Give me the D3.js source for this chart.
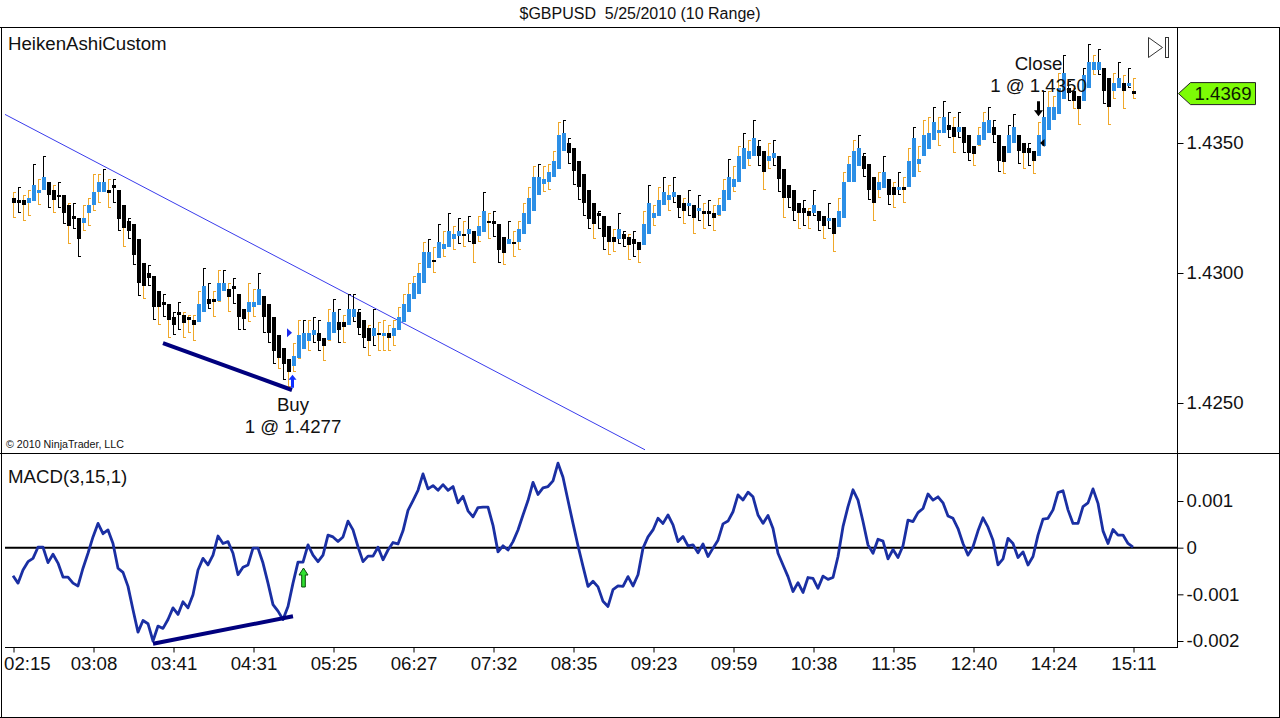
<!DOCTYPE html>
<html><head><meta charset="utf-8">
<script src="https://cdn.jsdelivr.net/npm/d3@7"></script>
<style>
body{margin:0;background:#fff}
svg{display:block}
text{font-family:Arial,"Liberation Sans",sans-serif}
</style>
</head><body>
<svg id="c" width="1280" height="718"></svg>
<script>
// ---------------- data ----------------
const title = "$GBPUSD  5/25/2010 (10 Range)";
const timeLabels = ["02:15","03:08","03:41","04:31","05:25","06:27","07:32","08:35","09:23","09:59","10:38","11:35","12:40","14:24","15:11"];
const priceTicks = [1.4250, 1.4300, 1.4350];
const macdTicks = [0.001, 0, -0.001, -0.002];

const haOpen = [
1.4329,1.4328,1.4328,1.4327,1.4328,1.4331,1.4332,1.4335,1.4332,1.4330,
1.4330,1.4326,1.4322,1.4321,1.4319,1.4323,1.4326,1.4331,1.4331,1.4332,
1.4334,1.4332,1.4326,1.4320,1.4319,1.4313,1.4304,1.4300,1.4299,1.4293,
1.4289,1.4288,1.4283,1.4285,1.4284,1.4283,1.4282,1.4281,1.4285,1.4290,
1.4290,1.4289,1.4293,1.4294,1.4295,1.4292,1.4286,1.4285,1.4287,1.4288,
1.4291,1.4288,1.4283,1.4276,1.4271,1.4267,1.4264,1.4267,1.4271,1.4274,
1.4276,1.4277,1.4275,1.4274,1.4277,1.4281,1.4281,1.4280,1.4283,1.4285,
1.4282,1.4279,1.4276,1.4277,1.4276,1.4277,1.4276,1.4278,1.4281,1.4285,
1.4290,1.4292,1.4296,1.4302,1.4305,1.4306,1.4309,1.4310,1.4313,1.4314,
1.4315,1.4315,1.4316,1.4314,1.4316,1.4320,1.4320,1.4319,1.4314,1.4311,
1.4312,1.4312,1.4315,1.4319,1.4324,1.4330,1.4334,1.4335,1.4337,1.4340,
1.4347,1.4350,1.4348,1.4343,1.4338,1.4332,1.4327,1.4323,1.4322,1.4318,
1.4314,1.4313,1.4315,1.4314,1.4313,1.4312,1.4311,1.4315,1.4321,1.4322,
1.4326,1.4328,1.4329,1.4330,1.4327,1.4326,1.4326,1.4324,1.4324,1.4324,
1.4323,1.4322,1.4324,1.4328,1.4333,1.4335,1.4340,1.4344,1.4345,1.4349,
1.4347,1.4343,1.4344,1.4345,1.4340,1.4334,1.4332,1.4327,1.4325,1.4324,
1.4323,1.4324,1.4322,1.4320,1.4321,1.4318,1.4321,1.4335,1.4335,1.4341,
1.4345,1.4342,1.4337,1.4332,1.4333,1.4336,1.4333,1.4332,1.4333,1.4333,
1.4337,1.4342,1.4345,1.4348,1.4351,1.4354,1.4354,1.4357,1.4356,1.4354,
1.4356,1.4353,1.4349,1.4349,1.4351,1.4354,1.4356,1.4353,1.4349,1.4346,
1.4350,1.4353,1.4350,1.4348,1.4347,1.4345,1.4349,1.4355,1.4359,1.4361,
1.4367,1.4371,1.4370,1.4368,1.4366,1.4371,1.4378,1.4378,1.4379,1.4375,
1.4370,1.4371,1.4373,1.4372,1.4370];

const haClose = [
1.4327,1.4327,1.4326,1.4329,1.4334,1.4332,1.4337,1.4330,1.4328,1.4330,
1.4323,1.4318,1.4321,1.4313,1.4321,1.4326,1.4331,1.4335,1.4335,1.4331,
1.4333,1.4321,1.4317,1.4316,1.4307,1.4296,1.4295,1.4298,1.4287,1.4287,
1.4288,1.4282,1.4280,1.4284,1.4281,1.4282,1.4280,1.4288,1.4295,1.4288,
1.4289,1.4296,1.4296,1.4291,1.4294,1.4283,1.4282,1.4289,1.4289,1.4294,
1.4283,1.4277,1.4270,1.4267,1.4265,1.4262,1.4268,1.4276,1.4277,1.4277,
1.4278,1.4274,1.4272,1.4281,1.4285,1.4278,1.4279,1.4286,1.4286,1.4279,
1.4275,1.4274,1.4279,1.4277,1.4277,1.4275,1.4279,1.4283,1.4288,1.4292,
1.4296,1.4300,1.4308,1.4308,1.4305,1.4312,1.4311,1.4316,1.4315,1.4316,
1.4315,1.4317,1.4311,1.4318,1.4324,1.4320,1.4319,1.4309,1.4308,1.4313,
1.4312,1.4317,1.4323,1.4329,1.4337,1.4337,1.4336,1.4339,1.4343,1.4353,
1.4354,1.4346,1.4339,1.4333,1.4327,1.4321,1.4319,1.4322,1.4314,1.4312,
1.4312,1.4317,1.4313,1.4311,1.4311,1.4309,1.4319,1.4327,1.4323,1.4328,
1.4331,1.4330,1.4331,1.4325,1.4324,1.4327,1.4321,1.4325,1.4323,1.4323,
1.4321,1.4326,1.4332,1.4337,1.4336,1.4345,1.4348,1.4347,1.4352,1.4345,
1.4339,1.4345,1.4346,1.4336,1.4329,1.4329,1.4324,1.4323,1.4323,1.4322,
1.4326,1.4320,1.4318,1.4321,1.4315,1.4324,1.4335,1.4342,1.4347,1.4348,
1.4340,1.4332,1.4327,1.4335,1.4339,1.4330,1.4330,1.4333,1.4332,1.4343,
1.4352,1.4344,1.4353,1.4354,1.4358,1.4355,1.4360,1.4355,1.4352,1.4356,
1.4350,1.4346,1.4346,1.4353,1.4358,1.4359,1.4353,1.4343,1.4343,1.4353,
1.4356,1.4347,1.4346,1.4346,1.4343,1.4353,1.4360,1.4364,1.4364,1.4371,
1.4377,1.4369,1.4366,1.4363,1.4376,1.4381,1.4381,1.4381,1.4370,1.4364,
1.4373,1.4375,1.4370,1.4373,1.4369];

const haHigh = [
1.4331,1.4333,1.4330,1.4332,1.4342,1.4336,1.4345,1.4335,1.4334,1.4335,
1.4330,1.4327,1.4327,1.4321,1.4326,1.4329,1.4338,1.4338,1.4340,1.4336,
1.4336,1.4332,1.4326,1.4321,1.4319,1.4313,1.4304,1.4303,1.4299,1.4293,
1.4292,1.4288,1.4285,1.4289,1.4285,1.4284,1.4284,1.4293,1.4302,1.4296,
1.4293,1.4301,1.4301,1.4296,1.4298,1.4292,1.4286,1.4296,1.4294,1.4300,
1.4291,1.4288,1.4283,1.4276,1.4271,1.4267,1.4273,1.4282,1.4282,1.4282,
1.4283,1.4282,1.4275,1.4286,1.4290,1.4286,1.4284,1.4292,1.4292,1.4286,
1.4282,1.4280,1.4286,1.4281,1.4282,1.4280,1.4282,1.4287,1.4292,1.4296,
1.4299,1.4304,1.4312,1.4313,1.4310,1.4319,1.4316,1.4323,1.4318,1.4321,
1.4320,1.4322,1.4316,1.4322,1.4331,1.4323,1.4324,1.4319,1.4314,1.4320,
1.4316,1.4320,1.4327,1.4333,1.4341,1.4342,1.4341,1.4342,1.4347,1.4358,
1.4359,1.4352,1.4348,1.4343,1.4338,1.4332,1.4327,1.4324,1.4322,1.4318,
1.4317,1.4323,1.4316,1.4315,1.4316,1.4312,1.4324,1.4334,1.4326,1.4333,
1.4337,1.4334,1.4337,1.4330,1.4329,1.4332,1.4326,1.4330,1.4327,1.4328,
1.4326,1.4329,1.4336,1.4344,1.4341,1.4349,1.4354,1.4351,1.4359,1.4351,
1.4347,1.4350,1.4351,1.4345,1.4340,1.4334,1.4332,1.4327,1.4328,1.4325,
1.4332,1.4324,1.4322,1.4327,1.4321,1.4329,1.4339,1.4345,1.4351,1.4353,
1.4346,1.4342,1.4337,1.4339,1.4345,1.4336,1.4335,1.4339,1.4337,1.4348,
1.4356,1.4349,1.4359,1.4360,1.4364,1.4360,1.4366,1.4362,1.4360,1.4362,
1.4356,1.4353,1.4349,1.4356,1.4362,1.4364,1.4359,1.4353,1.4349,1.4357,
1.4361,1.4353,1.4350,1.4350,1.4347,1.4358,1.4370,1.4370,1.4368,1.4377,
1.4384,1.4374,1.4371,1.4368,1.4379,1.4388,1.4384,1.4386,1.4379,1.4375,
1.4377,1.4381,1.4376,1.4379,1.4375];

const haLow = [
1.4321,1.4323,1.4320,1.4322,1.4328,1.4326,1.4332,1.4325,1.4323,1.4325,
1.4319,1.4311,1.4317,1.4306,1.4316,1.4318,1.4324,1.4327,1.4331,1.4325,
1.4327,1.4316,1.4310,1.4313,1.4303,1.4291,1.4290,1.4295,1.4282,1.4280,
1.4283,1.4275,1.4276,1.4278,1.4275,1.4277,1.4274,1.4281,1.4285,1.4286,
1.4283,1.4289,1.4293,1.4285,1.4288,1.4278,1.4278,1.4281,1.4283,1.4288,
1.4277,1.4273,1.4265,1.4263,1.4259,1.4256,1.4262,1.4267,1.4271,1.4270,
1.4273,1.4270,1.4266,1.4274,1.4277,1.4273,1.4273,1.4280,1.4281,1.4276,
1.4271,1.4268,1.4272,1.4270,1.4270,1.4270,1.4272,1.4278,1.4281,1.4285,
1.4290,1.4292,1.4296,1.4302,1.4300,1.4306,1.4306,1.4310,1.4309,1.4311,
1.4310,1.4312,1.4304,1.4312,1.4316,1.4313,1.4314,1.4304,1.4303,1.4311,
1.4306,1.4309,1.4315,1.4319,1.4324,1.4330,1.4331,1.4332,1.4337,1.4340,
1.4347,1.4342,1.4334,1.4328,1.4322,1.4317,1.4313,1.4317,1.4309,1.4307,
1.4308,1.4311,1.4310,1.4305,1.4306,1.4304,1.4311,1.4315,1.4318,1.4322,
1.4326,1.4324,1.4327,1.4321,1.4319,1.4322,1.4315,1.4320,1.4317,1.4318,
1.4316,1.4322,1.4324,1.4328,1.4331,1.4335,1.4340,1.4341,1.4345,1.4341,
1.4332,1.4340,1.4341,1.4331,1.4321,1.4325,1.4320,1.4317,1.4318,1.4317,
1.4322,1.4316,1.4313,1.4317,1.4308,1.4318,1.4321,1.4335,1.4335,1.4341,
1.4337,1.4328,1.4320,1.4329,1.4333,1.4326,1.4325,1.4330,1.4327,1.4333,
1.4337,1.4339,1.4345,1.4348,1.4351,1.4349,1.4354,1.4352,1.4346,1.4352,
1.4346,1.4343,1.4341,1.4349,1.4351,1.4354,1.4350,1.4339,1.4338,1.4346,
1.4350,1.4342,1.4340,1.4341,1.4338,1.4345,1.4349,1.4355,1.4359,1.4361,
1.4367,1.4366,1.4363,1.4357,1.4366,1.4371,1.4376,1.4376,1.4365,1.4357,
1.4367,1.4371,1.4363,1.4371,1.4367];

// wick tone per bar: o = orange, k = black
const wickTone = ["okookokkok","kokkooooko","kkokkkokko","kokkooookk","ookokkkook",
"kkkokoooko","kkookkokkk","kokooooooo","oookokokok","okookokkok",
"oooookoooo","kkkkkkokko","okkokookoo","kokkokokok","oookookokk",
"ookkokkoko","kkokoooook","kkookkokoo","koookokkok","kkoookkkok",
"kkokookooo","kkookkokko","okoko"].join("").split("");

const macd = [
-0.00060,-0.00076,-0.00048,-0.00030,-0.00023,0.00001,0.00001,-0.00032,-0.00014,-0.00033,
-0.00063,-0.00063,-0.00076,-0.00082,-0.00044,-0.00012,0.00023,0.00052,0.00030,0.00038,
0.00009,-0.00044,-0.00053,-0.00083,-0.00133,-0.00181,-0.00156,-0.00163,-0.00200,-0.00168,
-0.00173,-0.00154,-0.00129,-0.00143,-0.00116,-0.00129,-0.00101,-0.00048,-0.00023,-0.00037,
-0.00016,0.00025,0.00009,0.00013,-0.00012,-0.00058,-0.00042,-0.00037,-0.00001,-0.00001,
-0.00033,-0.00076,-0.00122,-0.00136,-0.00154,-0.00126,-0.00076,-0.00031,-0.00031,0.00006,
-0.00016,-0.00030,-0.00016,0.00027,
0.00023,0.00013,0.00023,0.00057,0.00038,0.00002,-0.00030,-0.00018,-0.00018,0.00001,
-0.00026,-0.00005,0.00011,0.00008,0.00036,0.00080,0.00101,0.00123,0.00158,0.00126,
0.00133,0.00123,0.00135,0.00123,0.00131,0.00096,0.00110,0.00079,0.00066,0.00086,
0.00087,0.00087,0.00048,-0.00009,0.00004,-0.00005,0.00013,0.00038,0.00070,0.00101,
0.00140,0.00114,0.00128,0.00131,0.00143,0.00181,0.00151,0.00101,0.00052,0.00004,
-0.00040,-0.00083,-0.00072,-0.00084,-0.00115,-0.00126,-0.00090,-0.00082,-0.00083,-0.00062,
-0.00082,-0.00058,-0.00001,0.00023,
0.00038,0.00063,0.00052,0.00070,0.00049,0.00013,0.00024,0.00004,0.00006,-0.00011,
0.00008,-0.00019,-0.00001,0.00016,0.00051,0.00057,0.00077,0.00113,0.00102,0.00119,
0.00109,0.00070,0.00052,0.00069,0.00041,-0.00012,-0.00037,-0.00062,-0.00094,-0.00075,
-0.00096,-0.00064,-0.00066,-0.00087,-0.00061,-0.00068,-0.00064,-0.00019,0.00045,0.00088,
0.00124,0.00102,0.00056,0.00006,-0.00012,0.00018,0.00014,-0.00024,-0.00004,-0.00021,
0.00004,0.00059,0.00056,0.00075,0.00084,0.00115,0.00102,0.00109,0.00096,0.00068,
0.00063,0.00041,0.00009,-0.00016,0.00002,0.00036,0.00064,0.00044,0.00016,-0.00037,
-0.00024,0.00020,0.00009,-0.00021,-0.00009,-0.00037,-0.00019,0.00027,0.00061,0.00063,
0.00081,0.00118,0.00122,0.00081,0.00052,0.00052,0.00088,0.00096,0.00126,0.00095,
0.00036,0.00009,0.00039,0.00027,0.00027,0.00009,0.00001];

// annotations (bar index / price / value)
const buy = {bar: 56, price: 1.4277, label: "Buy", fill: "1 @ 1.4277"};
const exitTrade = {bar: 205, price: 1.4350, label: "Close", fill: "1 @ 1.4350"};
const trendLine = [{bar: -1.6, price: 1.4361}, {bar: 126.4, price: 1.4232}];
const priceDivergence = [{bar: 30, price: 1.4273}, {bar: 55.8, price: 1.4255}];
const macdDivergence = [{bar: 28, value: -0.00206}, {bar: 56, value: -0.00147}];
const macdSignalBar = 59;

// ---------------- drawing ----------------
const N = haClose.length;
const svg = d3.select("#c");
const FONT = "18.67px";
const BLUE = "#2c8fe6", ORANGE = "#f0a82a", MACDC = "#1a2fa3", NAVY = "#00007e";

svg.append("rect").attr("width",1280).attr("height",718).attr("fill","#fff");

const x = d3.scaleLinear().domain([0, 224]).range([13, 1133]);
const yP = d3.scaleLinear().domain([1.4250, 1.4350]).range([403, 143]);
const yM = d3.scaleLinear().domain([-0.002, 0.001]).range([641, 501]);

const defs = svg.append("defs");
defs.append("clipPath").attr("id","cp").append("rect").attr("x",2).attr("y",28).attr("width",1175).attr("height",424);
defs.append("clipPath").attr("id","cm").append("rect").attr("x",2).attr("y",454).attr("width",1175).attr("height",193);

// title
svg.append("text").attr("x",640).attr("y",19).attr("text-anchor","middle")
  .style("font-size","16px").style("white-space","pre").attr("fill","#111").text(title);

// frame
const frame = svg.append("g").attr("stroke","#000").attr("stroke-width",1).attr("fill","none").attr("shape-rendering","crispEdges");
frame.append("line").attr("x1",0).attr("x2",1280).attr("y1",27.5).attr("y2",27.5);
frame.append("line").attr("x1",0).attr("x2",1280).attr("y1",453.5).attr("y2",453.5);
frame.append("line").attr("x1",0).attr("x2",1280).attr("y1",717.5).attr("y2",717.5);
frame.append("line").attr("x1",1.5).attr("x2",1.5).attr("y1",27).attr("y2",718);
frame.append("line").attr("x1",1279.5).attr("x2",1279.5).attr("y1",27).attr("y2",718);
frame.append("line").attr("x1",1177.5).attr("x2",1177.5).attr("y1",27).attr("y2",648);
frame.append("line").attr("x1",5).attr("x2",1178).attr("y1",647.5).attr("y2",647.5);

// ---- price panel ----
const pg = svg.append("g").attr("clip-path","url(#cp)");

// trend line
pg.append("line")
  .attr("x1", x(trendLine[0].bar)).attr("y1", yP(trendLine[0].price))
  .attr("x2", x(trendLine[1].bar)).attr("y2", yP(trendLine[1].price))
  .attr("stroke","#3a3cec").attr("stroke-width",1);

const bars = d3.range(N);
// wicks
pg.append("g").selectAll("path").data(bars).join("path")
  .attr("fill","none").attr("stroke-width",1).attr("shape-rendering","crispEdges")
  .attr("stroke", i => wickTone[i] === "o" ? ORANGE : "#000")
  .attr("d", i => {
    const cx = x(i) + 0.5, t = Math.round(yP(haHigh[i])) + 0.5, b = Math.round(yP(haLow[i])) - 0.5;
    return `M${cx+2},${t}H${cx}V${b}H${cx+2}`;
  });
// bodies
pg.append("g").selectAll("rect").data(bars).join("rect")
  .attr("shape-rendering","crispEdges")
  .attr("x", i => x(i) - 1.5).attr("width", 4)
  .attr("y", i => Math.round(yP(Math.max(haOpen[i], haClose[i]))))
  .attr("height", i => Math.max(2, Math.round(Math.abs(yP(haOpen[i]) - yP(haClose[i])))))
  .attr("fill", i => haClose[i] > haOpen[i] ? BLUE : "#000");

// price divergence line
pg.append("line")
  .attr("x1", x(priceDivergence[0].bar)).attr("y1", yP(priceDivergence[0].price))
  .attr("x2", x(priceDivergence[1].bar)).attr("y2", yP(priceDivergence[1].price))
  .attr("stroke",NAVY).attr("stroke-width",4);

// buy marker
{
  const bx = x(buy.bar) - 0.5, tip = yP(haLow[buy.bar]) + 3;
  pg.append("path").attr("fill","#1030ff")
    .attr("d", `M${bx},${tip} L${bx+4},${tip+5} L${bx+1.5},${tip+5} L${bx+1.5},${tip+13} L${bx-1.5},${tip+13} L${bx-1.5},${tip+5} L${bx-4},${tip+5} Z`);
  const ey = yP(buy.price);
  pg.append("path").attr("fill","#1a2aee")
    .attr("d", `M${x(buy.bar)-6},${ey-4.5} L${x(buy.bar)-1},${ey} L${x(buy.bar)-6},${ey+4.5} Z`);
  svg.append("text").attr("x", x(buy.bar)).attr("y", 411).attr("text-anchor","middle")
    .style("font-size",FONT).attr("fill","#111").text(buy.label);
  svg.append("text").attr("x", x(buy.bar)).attr("y", 433).attr("text-anchor","middle")
    .style("font-size",FONT).attr("fill","#111").text(buy.fill);
}
// close marker
{
  const cx = x(exitTrade.bar) + 0.5, tip = yP(haHigh[exitTrade.bar]) - 6;
  svg.append("text").attr("x", cx).attr("y", 70).attr("text-anchor","middle")
    .style("font-size",FONT).attr("fill","#111").text(exitTrade.label);
  svg.append("text").attr("x", cx).attr("y", 92).attr("text-anchor","middle")
    .style("font-size",FONT).attr("fill","#111").text(exitTrade.fill);
  pg.append("path").attr("fill","#000")
    .attr("d", `M${cx},${tip} L${cx+4.5},${tip-6} L${cx+1.5},${tip-6} L${cx+1.5},${tip-15} L${cx-1.5},${tip-15} L${cx-1.5},${tip-6} L${cx-4.5},${tip-6} Z`);
  const ey = yP(exitTrade.price);
  pg.append("path").attr("fill","#000")
    .attr("d", `M${cx+6},${ey-4} L${cx+1.5},${ey} L${cx+6},${ey+4} Z`);
}

svg.append("text").attr("x",8).attr("y",50).style("font-size",FONT).attr("fill","#111").text("HeikenAshiCustom");
svg.append("text").attr("x",6).attr("y",448).style("font-size","10.7px").attr("fill","#111").text("\u00A9 2010 NinjaTrader, LLC");

// price axis
const pAxis = svg.append("g").attr("transform","translate(1177.5,0)")
  .call(d3.axisRight(yP).tickValues(priceTicks).tickSize(6).tickPadding(3).tickFormat(d3.format(".4f")));
pAxis.select(".domain").remove();
pAxis.selectAll("text").style("font-size",FONT).style("font-family","Arial, 'Liberation Sans', sans-serif").attr("fill","#111");

// last price tag
{
  const last = haClose[N-1], ly = yP(last);
  svg.append("path").attr("fill","#7dfc06").attr("stroke","#222").attr("stroke-width",1)
    .attr("d", `M1178.5,${ly} L1190.5,${ly-11} L1255.5,${ly-11} L1255.5,${ly+11} L1190.5,${ly+11} Z`);
  svg.append("text").attr("x",1223).attr("y",ly).attr("dy","0.35em").attr("text-anchor","middle")
    .style("font-size",FONT).attr("fill","#0c1a00").text(d3.format(".4f")(last));
}
// scroll icon
svg.append("path").attr("fill","#fff").attr("stroke","#333").attr("stroke-width",1)
  .attr("d","M1148.5,37.5 L1162.5,47.5 L1148.5,57.5 Z");
svg.append("rect").attr("x",1165.5).attr("y",37.5).attr("width",3).attr("height",20)
  .attr("fill","#fff").attr("stroke","#333");

// ---- MACD panel ----
const mg = svg.append("g").attr("clip-path","url(#cm)");
svg.append("text").attr("x",8).attr("y",483).style("font-size",FONT).attr("fill","#111").text("MACD(3,15,1)");
mg.append("line").attr("x1",5).attr("x2",1177).attr("y1",yM(0)).attr("y2",yM(0))
  .attr("stroke","#000").attr("stroke-width",2);
mg.append("path").datum(macd)
  .attr("fill","none").attr("stroke",MACDC).attr("stroke-width",2.8).attr("stroke-linejoin","round")
  .attr("d", d3.line().x((d,i)=>x(i)).y(d=>yM(d)));
mg.append("line")
  .attr("x1", x(macdDivergence[0].bar)).attr("y1", yM(macdDivergence[0].value))
  .attr("x2", x(macdDivergence[1].bar)).attr("y2", yM(macdDivergence[1].value))
  .attr("stroke",NAVY).attr("stroke-width",4);
{
  const gx = x(macdSignalBar) - 4.5, top = 568;
  mg.append("path").attr("fill","#2fe02f").attr("stroke","#0b4a0b").attr("stroke-width",1)
    .attr("d", `M${gx},${top} L${gx+4.5},${top+7} L${gx+1.8},${top+7} L${gx+1.8},${top+19} L${gx-1.8},${top+19} L${gx-1.8},${top+7} L${gx-4.5},${top+7} Z`);
}
const mAxis = svg.append("g").attr("transform","translate(1177.5,0)")
  .call(d3.axisRight(yM).tickValues(macdTicks).tickSize(6).tickPadding(3).tickFormat(d => String(d)));
mAxis.select(".domain").remove();
mAxis.selectAll("text").style("font-size",FONT).style("font-family","Arial, 'Liberation Sans', sans-serif").attr("fill","#111");

// time axis
const tAxis = svg.append("g").attr("transform","translate(0.5,647.5)")
  .call(d3.axisBottom(x).tickValues(d3.range(0, 225, 16)).tickSize(5).tickPadding(4)
    .tickFormat((d,i) => timeLabels[i]));
tAxis.select(".domain").remove();
tAxis.selectAll("text").style("font-size",FONT).style("font-family","Arial, 'Liberation Sans', sans-serif").attr("fill","#111");
// keep the first label fully inside the frame
tAxis.selectAll(".tick").filter((d,i) => i === 0).select("text")
  .attr("text-anchor","start").attr("x", 3 - x(0));
</script>
</body></html>
